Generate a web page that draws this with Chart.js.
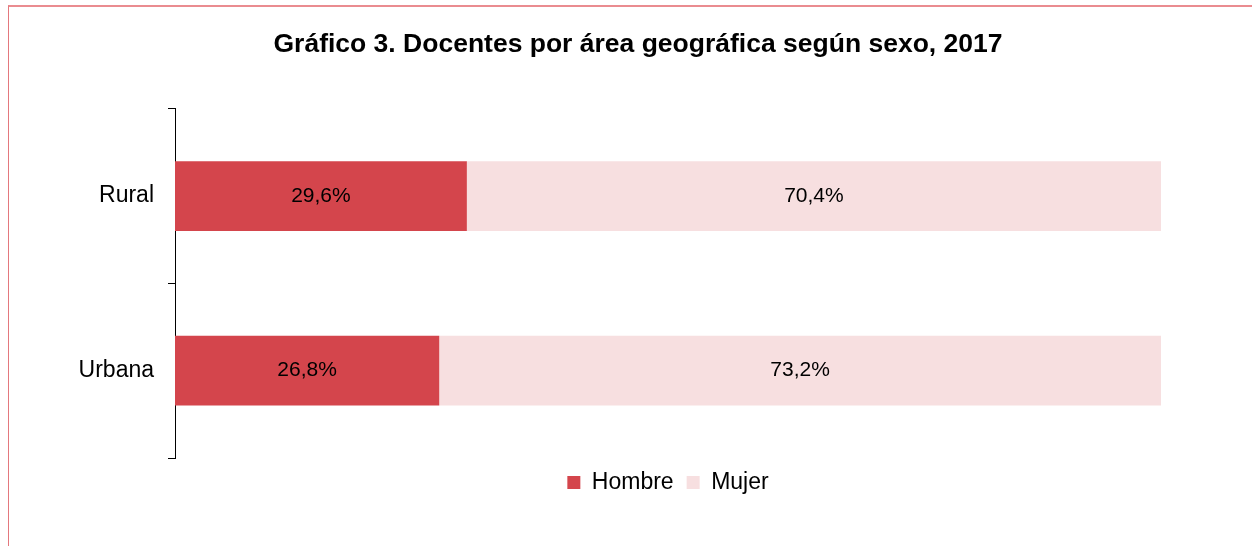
<!DOCTYPE html>
<html>
<head>
<meta charset="utf-8">
<script src="https://cdn.jsdelivr.net/npm/chart.js@4"></script>
<style>
	body { margin: 0; background: #fff; overflow: hidden; }
	#marco { position: absolute; left: 8px; top: 5px; width: 2000px; height: 1000px; border-left: 1px solid #e4787d; border-top: 2px solid #ea8c90; }
	#myChart { position: absolute; left: 0; top: 0; }
</style>
</head>
<body>
<div id="marco"></div>
<canvas id="myChart" width="1252" height="546"></canvas>
<script>
// datos del gráfico
const areas = ['Rural', 'Urbana'];
const hombre = [29.6, 26.8];
const mujer = [70.4, 73.2];
const series = ['Hombre', 'Mujer'];

const fuente = '"Liberation Sans", Arial, sans-serif';

// etiquetas de porcentaje dentro de las barras
const etiquetas = {
	id: 'etiquetas',
	afterLayout(chart)
	{
		// el eje Y es estrecho para centrar el título; se deja sitio a sus etiquetas
		chart.scales.y.left = 0;
	},
	afterDatasetsDraw(chart)
	{
		const ctx = chart.ctx;
		ctx.save();
		ctx.font = '21px ' + fuente;
		ctx.fillStyle = '#000';
		ctx.textAlign = 'center';
		ctx.textBaseline = 'middle';
		chart.data.datasets.forEach((ds, i) => {
			chart.getDatasetMeta(i).data.forEach((barra, j) => {
				const p = barra.getCenterPoint();
				ctx.fillText(ds.data[j].toFixed(1).replace('.', ',') + '%', p.x, p.y);
			});
		});
		ctx.restore();
	}
};

const ctx = document.getElementById('myChart').getContext('2d');
const myChart = new Chart(ctx, {
	type: 'bar',
	data: {
		labels: areas,
		datasets: [
			{ label: series[0], data: hombre, backgroundColor: '#d4454c' },
			{ label: series[1], data: mujer, backgroundColor: '#f7dfe0' }
		]
	},
	options: {
		indexAxis: 'y',
		responsive: false,
		animation: false,
		barPercentage: 0.4,
		categoryPercentage: 1,
		layout: { padding: { left: 115, right: 91, top: 0, bottom: 42 } },
		scales: {
			x: { stacked: true, min: 0, max: 100, display: false },
			y: {
				stacked: true,
				afterFit: s => { s.width = 60; },
				grid: { drawOnChartArea: false, color: '#000', tickLength: 7 },
				border: { color: '#000', width: 1 },
				ticks: { color: '#000', padding: 14, font: { size: 23, family: fuente } }
			}
		},
		plugins: {
			title: {
				display: true,
				text: 'Gráfico 3. Docentes por área geográfica según sexo, 2017',
				color: '#000',
				font: { size: 26.5, weight: 'bold', family: fuente },
				padding: { top: 29, bottom: 48 }
			},
			legend: {
				position: 'bottom',
				fullSize: false,
				labels: {
					boxWidth: 13,
					boxHeight: 13,
					padding: 13,
					color: '#000',
					font: { size: 23, family: fuente }
				}
			},
			tooltip: { enabled: false }
		}
	},
	plugins: [etiquetas]
});
</script>
</body>
</html>
